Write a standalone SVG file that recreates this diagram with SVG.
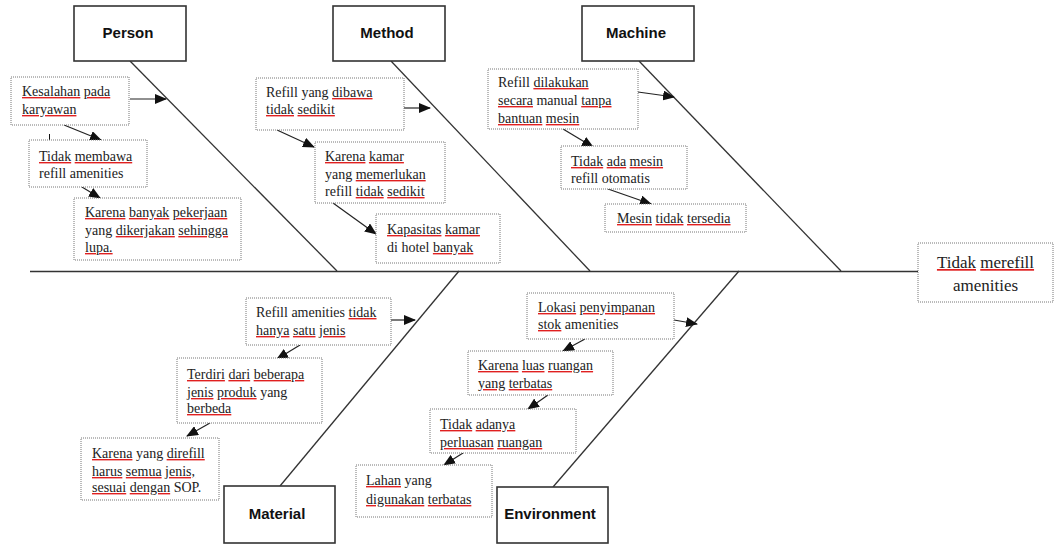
<svg xmlns="http://www.w3.org/2000/svg" width="1057" height="545" viewBox="0 0 1057 545">
  <style>
    .cat { fill: #fff; stroke: #333; stroke-width: 1.6; }
    .catl { font-family: "Liberation Sans", Arial, sans-serif; font-weight: bold; font-size: 15px; fill: #111; text-anchor: middle; }
    .cause { fill: #fff; stroke: #777; stroke-width: 1; stroke-dasharray: 1 1; }
    .t { font-family: "Liberation Serif", "Times New Roman", serif; font-size: 14px; fill: #222; }
    .big { font-size: 17px; text-anchor: middle; }
    /* spell-check squiggle: the outer tspan carries the red decoration, the inner one the dark glyphs */
    .sp { fill: #e02020; text-decoration-line: underline; text-decoration-style: wavy; text-decoration-color: #e02020; }
    .sp > tspan { fill: #222; }
    .bone { stroke: #333; stroke-width: 1.3; fill: none; }
    .arr { stroke: #222; stroke-width: 1.2; fill: none; marker-end: url(#ah); }
  </style>
  <defs>
    <marker id="ah" markerUnits="userSpaceOnUse" markerWidth="12" markerHeight="10" refX="11" refY="5" orient="auto">
      <path d="M0,0 L12,5 L0,10 Z" fill="#111"/>
    </marker>
  </defs>
  <rect width="1057" height="545" fill="#fff"/>

  <!-- skeleton: spine and category bones -->
  <g id="connectors">
    <line class="bone" x1="30" y1="271.5" x2="919" y2="271.5"/>
    <line class="bone" x1="130" y1="61" x2="337" y2="271"/>
    <line class="bone" x1="391" y1="61" x2="590" y2="271"/>
    <line class="bone" x1="639" y1="61" x2="841" y2="271"/>
    <line class="bone" x1="280" y1="486" x2="459" y2="271"/>
    <line class="bone" x1="553" y1="487" x2="739" y2="271"/>

    <!-- Person chain -->
    <line class="arr" x1="130" y1="99" x2="166" y2="99"/>
    <line class="arr" x1="64" y1="125" x2="101" y2="140"/>
    <line class="arr" x1="82" y1="187" x2="100" y2="198"/>
    <line stroke="#111" stroke-width="1" x1="49.5" y1="134" x2="49.5" y2="152"/>

    <!-- Method chain -->
    <line class="arr" x1="404" y1="108" x2="430" y2="108"/>
    <line class="arr" x1="277" y1="130" x2="314" y2="147"/>
    <line class="arr" x1="333" y1="203" x2="376" y2="234"/>

    <!-- Machine chain -->
    <line class="arr" x1="638" y1="92" x2="674" y2="97"/>
    <line class="arr" x1="563" y1="129" x2="593" y2="147"/>
    <line class="arr" x1="608" y1="189" x2="651" y2="204"/>

    <!-- Material chain -->
    <line class="arr" x1="391" y1="320" x2="415" y2="320"/>
    <line class="arr" x1="300" y1="345" x2="277" y2="359"/>
    <line class="arr" x1="210" y1="423" x2="187" y2="436"/>

    <!-- Environment chain -->
    <line class="arr" x1="674" y1="320" x2="697" y2="324"/>
    <line class="arr" x1="585" y1="339" x2="563" y2="351"/>
    <line class="arr" x1="548" y1="395" x2="528" y2="409"/>
    <line class="arr" x1="463" y1="453" x2="444" y2="465"/>
  </g>

  <!-- category headers -->
  <g id="person">
    <rect class="cat" x="74" y="6" width="112" height="55"/>
    <text class="catl" x="128" y="38">Person</text>
  </g>
  <g id="method">
    <rect class="cat" x="333" y="6" width="112" height="55"/>
    <text class="catl" x="387" y="38">Method</text>
  </g>
  <g id="machine">
    <rect class="cat" x="582" y="6" width="112" height="55"/>
    <text class="catl" x="636" y="38">Machine</text>
  </g>
  <g id="material">
    <rect class="cat" x="224" y="486" width="111" height="57"/>
    <text class="catl" x="277" y="519">Material</text>
  </g>
  <g id="environment">
    <rect class="cat" x="497" y="487" width="111" height="56"/>
    <text class="catl" x="550" y="519">Environment</text>
  </g>

  <!-- effect -->
  <g id="effect">
    <rect class="cause" x="918" y="243" width="135" height="59"/>
    <text class="t big" x="985.5" y="268"><tspan class="sp"><tspan>Tidak</tspan></tspan> <tspan class="sp"><tspan>merefill</tspan></tspan></text>
    <text class="t big" x="985.5" y="291">amenities</text>
  </g>

  <!-- Person causes -->
  <g id="p1">
    <rect class="cause" x="11" y="77" width="118" height="48"/>
    <text class="t" x="22" y="96"><tspan class="sp"><tspan>Kesalahan</tspan></tspan> <tspan class="sp"><tspan>pada</tspan></tspan></text>
    <text class="t" x="22" y="114"><tspan class="sp"><tspan>karyawan</tspan></tspan></text>
  </g>
  <g id="p2">
    <rect class="cause" x="29" y="140" width="118" height="47"/>
    <text class="t" x="39" y="161"><tspan class="sp"><tspan>Tidak</tspan></tspan> <tspan class="sp"><tspan>membawa</tspan></tspan></text>
    <text class="t" x="39" y="178">refill amenities</text>
  </g>
  <g id="p3">
    <rect class="cause" x="74" y="198" width="167" height="62"/>
    <text class="t" x="85" y="217"><tspan class="sp"><tspan>Karena</tspan></tspan> <tspan class="sp"><tspan>banyak</tspan></tspan> <tspan class="sp"><tspan>pekerjaan</tspan></tspan></text>
    <text class="t" x="85" y="235">yang <tspan class="sp"><tspan>dikerjakan</tspan></tspan> <tspan class="sp"><tspan>sehingga</tspan></tspan></text>
    <text class="t" x="85" y="252"><tspan class="sp"><tspan>lupa.</tspan></tspan></text>
  </g>

  <!-- Method causes -->
  <g id="m1">
    <rect class="cause" x="256" y="78" width="148" height="52"/>
    <text class="t" x="266" y="97">Refill yang <tspan class="sp"><tspan>dibawa</tspan></tspan></text>
    <text class="t" x="266" y="114"><tspan class="sp"><tspan>tidak</tspan></tspan> <tspan class="sp"><tspan>sedikit</tspan></tspan></text>
  </g>
  <g id="m2">
    <rect class="cause" x="315" y="142" width="130" height="61"/>
    <text class="t" x="325" y="161"><tspan class="sp"><tspan>Karena</tspan></tspan> <tspan class="sp"><tspan>kamar</tspan></tspan></text>
    <text class="t" x="325" y="179">yang <tspan class="sp"><tspan>memerlukan</tspan></tspan></text>
    <text class="t" x="325" y="196">refill <tspan class="sp"><tspan>tidak</tspan></tspan> <tspan class="sp"><tspan>sedikit</tspan></tspan></text>
  </g>
  <g id="m3">
    <rect class="cause" x="376" y="214" width="124" height="49"/>
    <text class="t" x="387" y="234"><tspan class="sp"><tspan>Kapasitas</tspan></tspan> <tspan class="sp"><tspan>kamar</tspan></tspan></text>
    <text class="t" x="387" y="252">di hotel <tspan class="sp"><tspan>banyak</tspan></tspan></text>
  </g>

  <!-- Machine causes -->
  <g id="ma1">
    <rect class="cause" x="488" y="69" width="150" height="60"/>
    <text class="t" x="498" y="87">Refill <tspan class="sp"><tspan>dilakukan</tspan></tspan></text>
    <text class="t" x="498" y="105"><tspan class="sp"><tspan>secara</tspan></tspan> manual <tspan class="sp"><tspan>tanpa</tspan></tspan></text>
    <text class="t" x="498" y="123"><tspan class="sp"><tspan>bantuan</tspan></tspan> <tspan class="sp"><tspan>mesin</tspan></tspan></text>
  </g>
  <g id="ma2">
    <rect class="cause" x="561" y="146" width="126" height="43"/>
    <text class="t" x="571" y="166"><tspan class="sp"><tspan>Tidak</tspan></tspan> <tspan class="sp"><tspan>ada</tspan></tspan> <tspan class="sp"><tspan>mesin</tspan></tspan></text>
    <text class="t" x="571" y="183">refill otomatis</text>
  </g>
  <g id="ma3">
    <rect class="cause" x="605" y="204" width="141" height="28"/>
    <text class="t" x="617" y="223"><tspan class="sp"><tspan>Mesin</tspan></tspan> <tspan class="sp"><tspan>tidak</tspan></tspan> <tspan class="sp"><tspan>tersedia</tspan></tspan></text>
  </g>

  <!-- Material causes -->
  <g id="mt1">
    <rect class="cause" x="246" y="298" width="145" height="47"/>
    <text class="t" x="256" y="317">Refill amenities <tspan class="sp"><tspan>tidak</tspan></tspan></text>
    <text class="t" x="256" y="335"><tspan class="sp"><tspan>hanya</tspan></tspan> <tspan class="sp"><tspan>satu</tspan></tspan> <tspan class="sp"><tspan>jenis</tspan></tspan></text>
  </g>
  <g id="mt2">
    <rect class="cause" x="177" y="358" width="145" height="65"/>
    <text class="t" x="187" y="379"><tspan class="sp"><tspan>Terdiri</tspan></tspan> <tspan class="sp"><tspan>dari</tspan></tspan> <tspan class="sp"><tspan>beberapa</tspan></tspan></text>
    <text class="t" x="187" y="397"><tspan class="sp"><tspan>jenis</tspan></tspan> <tspan class="sp"><tspan>produk</tspan></tspan> yang</text>
    <text class="t" x="187" y="413"><tspan class="sp"><tspan>berbeda</tspan></tspan></text>
  </g>
  <g id="mt3">
    <rect class="cause" x="81" y="438" width="138" height="62"/>
    <text class="t" x="92" y="458"><tspan class="sp"><tspan>Karena</tspan></tspan> yang <tspan class="sp"><tspan>direfill</tspan></tspan></text>
    <text class="t" x="92" y="476"><tspan class="sp"><tspan>harus</tspan></tspan> <tspan class="sp"><tspan>semua</tspan></tspan> <tspan class="sp"><tspan>jenis,</tspan></tspan></text>
    <text class="t" x="92" y="492"><tspan class="sp"><tspan>sesuai</tspan></tspan> <tspan class="sp"><tspan>dengan</tspan></tspan> SOP.</text>
  </g>

  <!-- Environment causes -->
  <g id="e1">
    <rect class="cause" x="527" y="293" width="147" height="46"/>
    <text class="t" x="538" y="312"><tspan class="sp"><tspan>Lokasi</tspan></tspan> <tspan class="sp"><tspan>penyimpanan</tspan></tspan></text>
    <text class="t" x="538" y="329"><tspan class="sp"><tspan>stok</tspan></tspan> amenities</text>
  </g>
  <g id="e2">
    <rect class="cause" x="468" y="351" width="145" height="44"/>
    <text class="t" x="478" y="370"><tspan class="sp"><tspan>Karena</tspan></tspan> <tspan class="sp"><tspan>luas</tspan></tspan> <tspan class="sp"><tspan>ruangan</tspan></tspan></text>
    <text class="t" x="478" y="388"><tspan class="sp"><tspan>yang</tspan></tspan> <tspan class="sp"><tspan>terbatas</tspan></tspan></text>
  </g>
  <g id="e3">
    <rect class="cause" x="430" y="409" width="146" height="44"/>
    <text class="t" x="440" y="429"><tspan class="sp"><tspan>Tidak</tspan></tspan> <tspan class="sp"><tspan>adanya</tspan></tspan></text>
    <text class="t" x="440" y="447"><tspan class="sp"><tspan>perluasan</tspan></tspan> <tspan class="sp"><tspan>ruangan</tspan></tspan></text>
  </g>
  <g id="e4">
    <rect class="cause" x="356" y="465" width="136" height="52"/>
    <text class="t" x="366" y="485"><tspan class="sp"><tspan>Lahan</tspan></tspan> yang</text>
    <text class="t" x="366" y="504"><tspan class="sp"><tspan>digunakan</tspan></tspan> <tspan class="sp"><tspan>terbatas</tspan></tspan></text>
  </g>
</svg>
